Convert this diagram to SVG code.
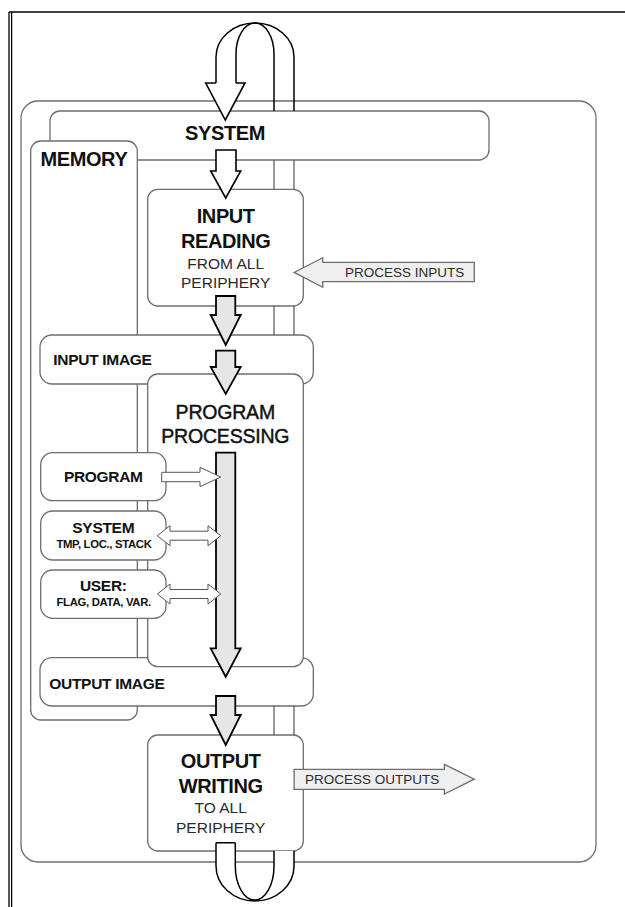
<svg xmlns="http://www.w3.org/2000/svg" width="625" height="907" viewBox="0 0 625 907">
  <style>
    .frame { fill: none; stroke: #000; stroke-width: 1.3; }
    .box { fill: #fff; stroke: #6e6e6e; stroke-width: 1.3; }
    .container { fill: none; stroke: #6e6e6e; stroke-width: 1.3; }
    .t { font-family: "Liberation Sans", Arial, sans-serif; fill: #111; }
    .big { font-size: 20px; font-weight: bold; letter-spacing: -0.4px; }
    .mid { font-size: 15.5px; font-weight: bold; letter-spacing: -0.3px; }
    .small { font-size: 11.3px; font-weight: bold; letter-spacing: -0.3px; }
    .sub { font-size: 15.5px; fill: #2a2a2a; }
    .proc { font-size: 19.5px; letter-spacing: -0.2px; stroke: #111; stroke-width: 0.45px; }
    .lbl { font-size: 13.5px; fill: #2a2a2a; }
    .flow { fill: #e6e6e6; stroke: #000; stroke-width: 1.8; stroke-linejoin: miter; }
    .flow-w { fill: #fff; stroke: #000; stroke-width: 1.6; }
    .side { fill: #fff; stroke: #555; stroke-width: 1; }
    .io { fill: #efefef; stroke: #6e6e6e; stroke-width: 1.3; }
    .band { fill: none; stroke: #000; stroke-width: 1.5; }
    .band-g { fill: none; stroke: #555; stroke-width: 1.2; }
  </style>

  <!-- page frame -->
  <g id="frame">
    <line class="frame" x1="9" y1="12" x2="625" y2="12"/>
    <line class="frame" x1="9" y1="12" x2="9" y2="907"/>
    <line class="frame" x1="11.6" y1="12" x2="11.6" y2="907"/>
  </g>

  <!-- controller container -->
  <g id="container">
    <rect class="container" x="21" y="101" width="575" height="761" rx="17"/>
  </g>

  <g id="system">
    <rect class="box" x="50" y="111" width="439" height="49" rx="10"/>
    <text class="t big" x="225" y="140" text-anchor="middle">SYSTEM</text>
  </g>

  <g id="memory">
    <rect class="box" x="30.7" y="141" width="106.6" height="579" rx="10"/>
    <text class="t big" x="40.5" y="165.7">MEMORY</text>
  </g>

  <g id="input-reading">
    <rect class="box" x="147.7" y="189.3" width="155.6" height="116.7" rx="10"/>
    <text class="t big" x="225.7" y="223.3" text-anchor="middle">INPUT</text>
    <text class="t big" x="225.7" y="248.3" text-anchor="middle">READING</text>
    <text class="t sub" x="225.7" y="269.3" text-anchor="middle">FROM ALL</text>
    <text class="t sub" x="225.7" y="288.3" text-anchor="middle">PERIPHERY</text>
  </g>

  <g id="output-image">
    <rect class="box" x="40" y="657.7" width="273.3" height="48.3" rx="12"/>
    <text class="t mid" x="49.3" y="689">OUTPUT IMAGE</text>
  </g>

  <g id="input-image">
    <rect class="box" x="40" y="335" width="273.3" height="49" rx="12"/>
    <text class="t mid" x="53.3" y="365">INPUT IMAGE</text>
  </g>

  <g id="program-processing">
    <rect class="box" x="147.7" y="374" width="155.6" height="292.7" rx="10"/>
    <text class="t proc" x="225.3" y="419.3" text-anchor="middle">PROGRAM</text>
    <text class="t proc" x="225.3" y="443.3" text-anchor="middle">PROCESSING</text>
  </g>

  <g id="program">
    <rect class="box" x="40.7" y="452.7" width="125.3" height="48" rx="12"/>
    <text class="t mid" x="103.3" y="481.7" text-anchor="middle">PROGRAM</text>
  </g>

  <g id="system-data">
    <rect class="box" x="40.7" y="511" width="125.3" height="49" rx="12"/>
    <text class="t mid" x="103.3" y="533.3" text-anchor="middle">SYSTEM</text>
    <text class="t small" x="104" y="548.3" text-anchor="middle">TMP, LOC., STACK</text>
  </g>

  <g id="user-data">
    <rect class="box" x="40.7" y="570" width="125.3" height="48.3" rx="12"/>
    <text class="t mid" x="103.3" y="591" text-anchor="middle">USER:</text>
    <text class="t small" x="103.7" y="606" text-anchor="middle">FLAG, DATA, VAR.</text>
  </g>

  <g id="output-writing">
    <rect class="box" x="147.7" y="735" width="155.6" height="116" rx="10"/>
    <text class="t big" x="220.7" y="768.3" text-anchor="middle">OUTPUT</text>
    <text class="t big" x="220.7" y="793.3" text-anchor="middle">WRITING</text>
    <text class="t sub" x="220.7" y="813.3" text-anchor="middle">TO ALL</text>
    <text class="t sub" x="220.7" y="833.3" text-anchor="middle">PERIPHERY</text>
  </g>

  <g id="connectors">
    <!-- scan cycle band: visible stretches between the stacked boxes -->
    <g id="cycle-band">
      <path class="band" d="M216,83 V57 A39,34 0 0 1 294,57 V111"/>
      <path class="band" d="M236,83 V54 A19,31 0 0 1 274,54 V111"/>
      <path class="band-g" d="M274,160 V189.3 M294,160 V189.3 M274,306 V335 M294,306 V335 M274,706 V735 M294,706 V735"/>
      <path class="flow-w" d="M216,83 H205.7 L225.3,120 L245,83 H236"/>
      <!-- return path below the output stage -->
      <path fill="#fff" stroke="none" d="M216,842.7 H235.3 V866 A19.3,34 0 0 0 274,866 V851 H294 V866 A39,35 0 0 1 216,866 Z"/>
      <path class="band" d="M216,842.7 H235.3 M216,842.7 V866 A39,35 0 0 0 294,866 V851"/>
      <path class="band" d="M235.3,842.7 V866 A19.35,34 0 0 0 274,866 V851"/>
    </g>

    <!-- main data flow -->
    <path id="sys-to-input" class="flow-w" d="M216,150 H236 V171 H240.7 L225.7,198 L210.7,171 H216 Z"/>
    <path id="input-to-image" class="flow" d="M216,296 H235.3 V315 H240.7 L225.7,345 L210.7,315 H216 Z"/>
    <path id="image-to-proc" class="flow" d="M216,350.7 H235.3 V367 H240.7 L225.7,394 L210.7,367 H216 Z"/>
    <path id="proc-bar" class="flow" d="M216,452.7 H235.3 V648.3 H240.7 L225.7,676.7 L210.7,648.3 H216 Z"/>
    <path id="image-to-output" class="flow" d="M216,696 H235.3 V715 H240.7 L225.7,745 L210.7,715 H216 Z"/>

    <!-- memory areas to the processing bar -->
    <path id="program-link" class="side" d="M161.7,472.3 H200 V467.3 L220.7,477 L200,486.7 V481.7 H161.7 Z"/>
    <path id="system-link" class="side" d="M157.3,535.7 L170,525.7 V531.2 H208 V525.7 L220.7,535.7 L208,545.7 V540.2 H170 V545.7 Z"/>
    <path id="user-link" class="side" d="M157.3,594 L170,584 V589.5 H208 V584 L220.7,594 L208,604 V598.5 H170 V604 Z"/>

    <!-- process I/O -->
    <g id="process-inputs">
      <path class="io" d="M474.3,262.3 V281.7 H322.8 V287.3 L294.1,272.4 L322.8,257.7 V262.3 Z"/>
      <text class="t lbl" x="345" y="276.7">PROCESS INPUTS</text>
    </g>
    <g id="process-outputs">
      <path class="io" d="M294.1,769.3 H444.4 V764.3 L474.3,779.2 L444.4,794 V789.3 H294.1 Z"/>
      <text class="t lbl" x="305" y="784.3">PROCESS OUTPUTS</text>
    </g>
  </g>
</svg>
